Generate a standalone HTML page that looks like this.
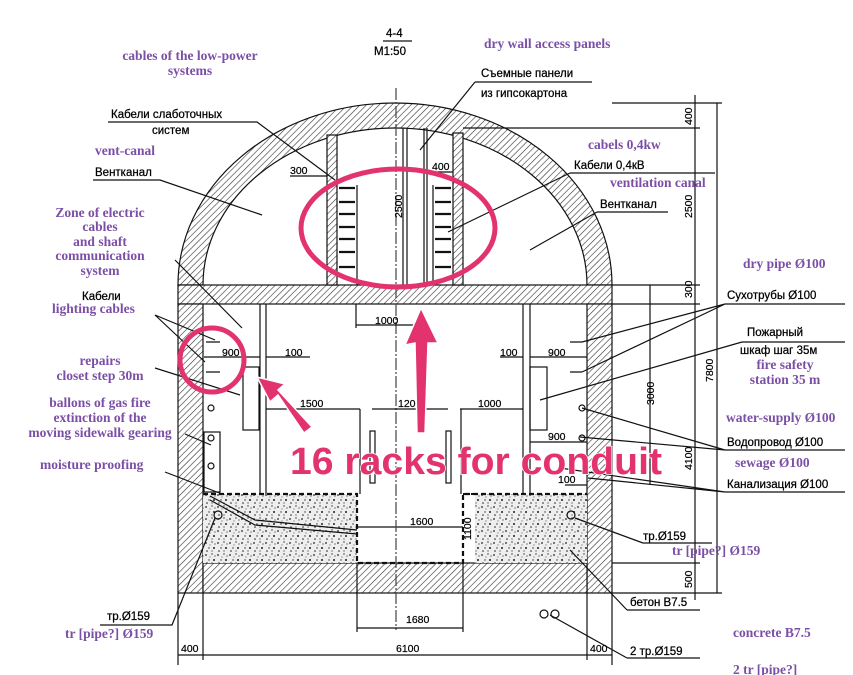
<!DOCTYPE html>
<html><head><meta charset="utf-8"><style>
html,body{margin:0;padding:0;background:#fff;}
svg{display:block}
.t{font-family:"Liberation Sans",sans-serif;font-size:11.5px;fill:#000;stroke:#000;stroke-width:0.25}
.p{font-family:"Liberation Serif",serif;font-weight:bold;font-size:13.5px;fill:#7b4fa6}
.d{font-family:"Liberation Sans",sans-serif;font-size:10.5px;fill:#000;stroke:#000;stroke-width:0.2}
</style></head><body>
<svg width="853" height="675" viewBox="0 0 853 675" xmlns="http://www.w3.org/2000/svg">
<defs>
<pattern id="h" width="4.5" height="4.5" patternUnits="userSpaceOnUse" patternTransform="rotate(45)">
<rect width="5" height="5" fill="#fff"/><line x1="0" y1="0" x2="0" y2="5" stroke="#333" stroke-width="1.2"/></pattern>
<pattern id="c" width="12" height="12" patternUnits="userSpaceOnUse">
<rect width="12" height="12" fill="#eee"/>
<circle cx="2" cy="3" r="0.9" fill="#222"/><circle cx="8" cy="2" r="0.7" fill="#333"/><circle cx="10" cy="8" r="1" fill="#222"/>
<circle cx="5" cy="8" r="0.7" fill="#333"/><circle cx="3" cy="11" r="0.8" fill="#222"/><circle cx="8" cy="11" r="0.6" fill="#333"/>
<circle cx="11" cy="4" r="0.6" fill="#333"/><circle cx="6" cy="5" r="0.5" fill="#222"/></pattern>
</defs>
<g stroke="#111" stroke-width="1.2" fill="none">
<path d="M178 285 A217 182 0 0 1 612 285 L587 285 A192 157 0 0 0 203 285 Z" fill="url(#h)"/>
<rect x="178" y="285" width="434" height="19" fill="url(#h)"/>
<rect x="178" y="304" width="25" height="289" fill="url(#h)"/>
<rect x="587" y="304" width="25" height="289" fill="url(#h)"/>
<rect x="203" y="563" width="384" height="30" fill="url(#h)"/>
<rect x="203" y="494" width="154" height="69" fill="url(#c)" stroke="none"/>
<rect x="475" y="494" width="112" height="69" fill="url(#c)" stroke="none"/>
<path d="M203 494 H357 V563 H463 V494 H587" stroke-width="2.2" stroke-dasharray="5,3"/>
<line x1="463" y1="494" x2="475" y2="494" stroke-width="2" stroke-dasharray="5,3"/>
<path d="M210 496 L255 520 L357 530"/><path d="M210 500 L255 525 L357 534"/>
<circle cx="218" cy="515" r="4"/><circle cx="571" cy="515" r="4"/>
<line x1="357" y1="527" x2="463" y2="527"/>
<rect x="327" y="135" width="10" height="150" fill="url(#h)"/>
<rect x="453" y="133" width="10" height="152" fill="url(#h)"/>
<line x1="357" y1="185" x2="357" y2="285"/>
<line x1="433" y1="185" x2="433" y2="285"/>
<line x1="407" y1="128" x2="407" y2="285"/><line x1="427" y1="128" x2="427" y2="285"/>
<line x1="403" y1="128" x2="403" y2="285"/><line x1="424" y1="128" x2="424" y2="285"/>
<g stroke-width="2.2">
<path d="M339 188 h16 M339 202 h16 M339 214 h16 M339 227 h16 M339 239 h16 M339 252 h16 M339 267 h16"/>
<path d="M435 188 h16 M435 202 h16 M435 214 h16 M435 227 h16 M435 239 h16 M435 252 h16 M435 267 h16"/>
</g>
<line x1="396" y1="88" x2="396" y2="630" stroke-dasharray="12,2,2,2" stroke="#444"/>
<line x1="260" y1="304" x2="260" y2="494"/><line x1="266" y1="304" x2="266" y2="494"/>
<line x1="523" y1="304" x2="523" y2="494"/><line x1="530" y1="304" x2="530" y2="494"/>
<rect x="243" y="367" width="16" height="63"/><rect x="530" y="367" width="17" height="63"/>
<rect x="204" y="432" width="16" height="60"/>
<line x1="360" y1="409" x2="360" y2="494"/><line x1="461" y1="409" x2="461" y2="494"/>
<rect x="370" y="431" width="5" height="52"/><rect x="446" y="431" width="5" height="52"/>
<path d="M206 342 h14 M206 372 h14 M582 342 h-12 M582 372 h-12"/>
<circle cx="211" cy="408" r="3"/><circle cx="211" cy="438" r="3"/><circle cx="211" cy="466" r="3"/>
<circle cx="582" cy="408" r="3"/><circle cx="582" cy="438" r="3"/>
<path d="M356 325 H418 M356 304 V328 M266 409 H360 M372 409 H448 M460 409 H523"/>
<path d="M204 357 H260 M266 357 H310 M500 357 H523 M530 357 H587 M530 442 H587 M565 485 H587"/>
<path d="M357 628 H463 M357 563 V632 M463 563 V632"/>
<path d="M178 655 H612 M178 593 V665 M203 593 V660 M587 593 V660 M612 593 V665"/>
<path d="M612 103 H722 M463 128 H700 M612 285 H700 M612 304 H700 M612 563 H700 M612 593 H722"/>
<line x1="695" y1="95" x2="695" y2="600"/><line x1="717" y1="103" x2="717" y2="593"/>
<line x1="650" y1="285" x2="650" y2="485"/>
<path d="M108 122 H257 L335 180"/><path d="M93 180 H160 L262 215"/>
<path d="M290 176 H327"/><path d="M430 172 H453"/>
<path d="M475 82 H592 M475 82 L420 150"/>
<path d="M570 173 H715 M570 173 L448 232"/>
<path d="M597 212 H668 M597 212 L530 250"/>
<path d="M175 260 L242 328"/>
<path d="M155 315 L215 340 M155 315 L205 362"/>
<path d="M155 368 L240 395"/>
<path d="M185 434 L211 445"/>
<path d="M165 472 L222 494"/>
<path d="M100 625 H172 L215 518"/>
<path d="M725 304 H845 M725 304 L582 342 M725 304 L582 372"/>
<path d="M742 342 H845 M742 342 L540 400"/>
<path d="M725 450 H845 M725 450 L582 408 M725 450 L580 437"/>
<path d="M725 492 H845 M725 492 L588 478 M725 492 L560 468"/>
<path d="M643 543 H712 M643 543 L575 518"/>
<path d="M627 610 H700 M627 610 L570 550"/>
<path d="M627 658 H700 M627 658 L550 615"/>
<circle cx="544" cy="614" r="4"/><circle cx="555" cy="614" r="4"/>
<path d="M383 41 H412"/>
</g>
<text class="t" x="386" y="37">4-4</text>
<text class="t" x="374" y="55">М1:50</text>
<text class="t" x="481" y="77">Съемные панели</text>
<text class="t" x="481" y="97">из гипсокартона</text>
<text class="t" x="111" y="118">Кабели слаботочных</text>
<text class="t" x="152" y="134">систем</text>
<text class="t" x="95" y="176">Вентканал</text>
<text class="t" x="574" y="169">Кабели 0,4кВ</text>
<text class="t" x="600" y="208">Вентканал</text>
<text class="t" x="82" y="300">Кабели</text>
<text class="t" x="727" y="299">Сухотрубы Ø100</text>
<text class="t" x="747" y="336">Пожарный</text>
<text class="t" x="740" y="354">шкаф   шаг 35м</text>
<text class="t" x="727" y="446">Водопровод Ø100</text>
<text class="t" x="727" y="488">Канализация Ø100</text>
<text class="t" x="643" y="540">тр.Ø159</text>
<text class="t" x="630" y="606">бетон B7.5</text>
<text class="t" x="630" y="655">2 тр.Ø159</text>
<text class="t" x="107" y="620">тр.Ø159</text>
<g class="d">
<text x="290" y="174">300</text><text x="432" y="170">400</text>
<text x="375" y="324">1000</text><text x="222" y="356">900</text><text x="285" y="356">100</text>
<text x="500" y="356">100</text><text x="548" y="356">900</text>
<text x="300" y="407">1500</text><text x="398" y="407">1200</text><text x="478" y="407">1000</text>
<text x="548" y="440">900</text><text x="558" y="483">100</text>
<text x="410" y="525">1600</text><text x="406" y="623">1680</text><text x="396" y="652">6100</text>
<text x="181" y="652">400</text><text x="590" y="652">400</text>
<text transform="translate(402,218) rotate(-90)">2500</text>
<text transform="translate(471,540) rotate(-90)">1100</text>
<text transform="translate(692,125) rotate(-90)">400</text>
<text transform="translate(692,218) rotate(-90)">2500</text>
<text transform="translate(692,298) rotate(-90)">300</text>
<text transform="translate(654,405) rotate(-90)">3000</text>
<text transform="translate(713,382) rotate(-90)">7800</text>
<text transform="translate(692,470) rotate(-90)">4100</text>
<text transform="translate(692,588) rotate(-90)">500</text>
</g>
<g class="p" text-anchor="middle">
<text x="190" y="60">cables of the low-power</text><text x="190" y="75">systems</text>
<text x="100" y="217">Zone of electric</text><text x="100" y="231">cables</text><text x="100" y="246">and shaft</text>
<text x="100" y="260">communication</text><text x="100" y="275">system</text>
<text x="100" y="365">repairs</text><text x="100" y="380">closet step 30m</text>
<text x="100" y="407">ballons of gas fire</text><text x="100" y="422">extinction of the</text><text x="100" y="437">moving sidewalk gearing</text>
<text x="785" y="369">fire safety</text><text x="785" y="384">station 35 m</text>
</g>
<g class="p">
<text x="95" y="155">vent-canal</text>
<text x="52" y="313">lighting cables</text>
<text x="40" y="469">moisture proofing</text>
<text x="65" y="638">tr [pipe?] Ø159</text>
<text x="484" y="48">dry wall access panels</text>
<text x="588" y="149">cabels 0,4kw</text>
<text x="610" y="187">ventilation canal</text>
<text x="743" y="268">dry pipe Ø100</text>
<text x="726" y="422">water-supply Ø100</text>
<text x="735" y="467">sewage Ø100</text>
<text x="672" y="555">tr [pipe?] Ø159</text>
<text x="733" y="637">concrete B7.5</text>
<text x="733" y="674">2 tr [pipe?]</text>
</g>
<g stroke="#e2336f" fill="none" stroke-width="5">
<ellipse cx="398" cy="228" rx="97" ry="59"/>
<circle cx="212" cy="360" r="32"/>
</g>
<g fill="#e2336f" stroke="#fff" stroke-width="1.5">
<path d="M417 433 L415 343 L405 345 L421 308 L438 343 L428 343 L425 433 Z"/>
<path d="M304 433 L278 395 L270 402 L257 377 L285 384 L278 390 L312 427 Z"/>
</g>
<text x="290" y="474" textLength="372" lengthAdjust="spacingAndGlyphs" font-family="Liberation Sans, sans-serif" font-weight="bold" font-size="38" fill="#e2336f" stroke="#fff" stroke-width="1.5" paint-order="stroke">16 racks for conduit</text>
</svg>
</body></html>
